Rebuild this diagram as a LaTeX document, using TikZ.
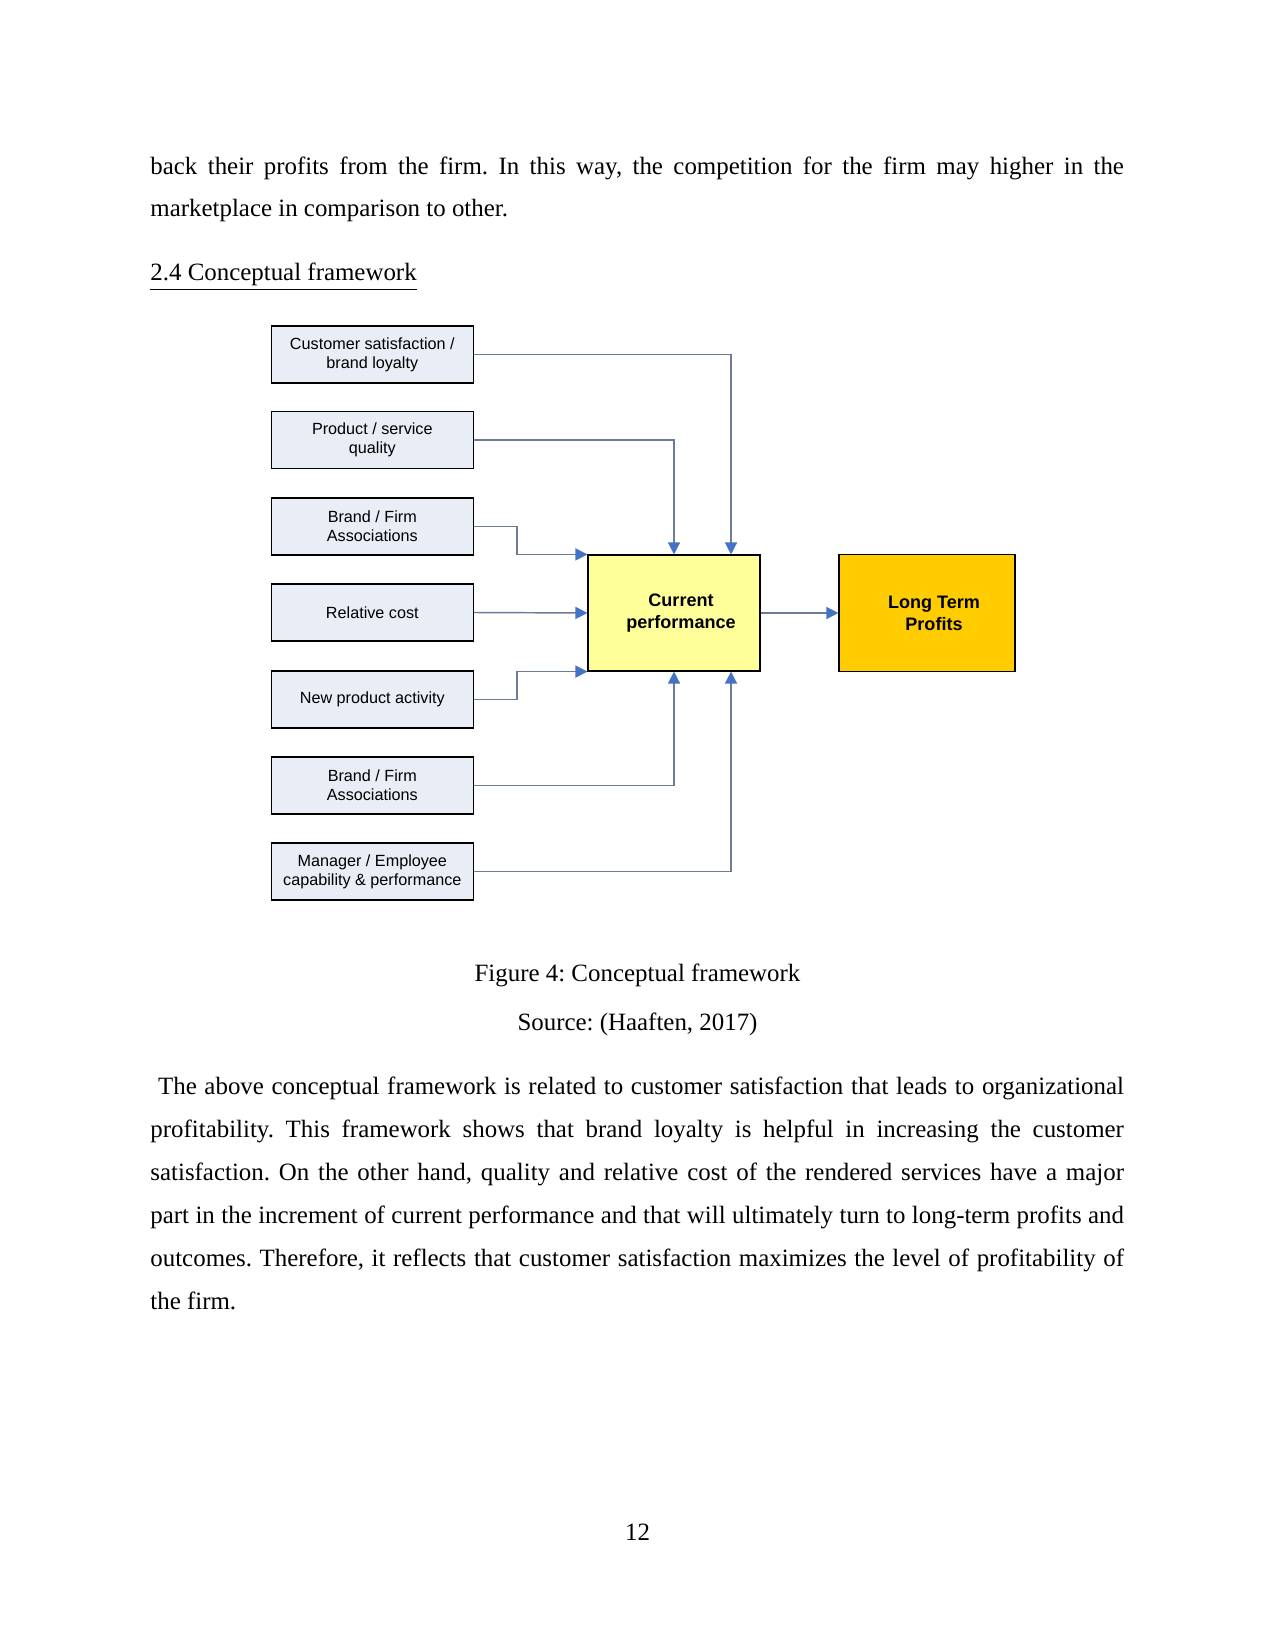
\documentclass[tikz,border=0pt]{standalone}
\usepackage{fontspec}
\setmainfont{Liberation Serif}
\newfontfamily\arialfont{Liberation Sans}
\usetikzlibrary{arrows.meta}
\newdimen\pxu
\pxu=0.4818pt
\definecolor{boxfill}{RGB}{233,237,246}
\definecolor{curfill}{RGB}{255,255,153}
\definecolor{longfill}{RGB}{255,204,0}
\definecolor{linecol}{RGB}{108,124,148}
\definecolor{tipcol}{RGB}{68,114,196}
\frenchspacing
\begin{document}
\begin{tikzpicture}[x=0.4818pt,y=-0.4818pt,
  inbox/.style={draw=black,line width=0.55pt,fill=boxfill,minimum width=202\pxu,minimum height=57\pxu,inner sep=0pt,align=center,font=\arialfont\fontsize{7.8pt}{9.2pt}\selectfont},
  bigbox/.style={draw=black,line width=0.55pt,minimum height=116\pxu,inner sep=0pt},
  bigtext/.style={align=center,font=\arialfont\bfseries\fontsize{8.7pt}{10.6pt}\selectfont},
  conn/.style={draw=linecol,line width=0.7pt,-{Triangle[length=5.8pt,width=5.8pt,fill=tipcol,color=tipcol]}},
  bodyline/.style={anchor=base west,inner sep=0pt,font=\fontsize{12pt}{14pt}\selectfont},
  centerline/.style={anchor=base,inner sep=0pt,font=\fontsize{12pt}{14pt}\selectfont}]
\useasboundingbox[fill=white] (0,0) rectangle (1275,1650);

% text above
\node[bodyline] (t1) at (150,175) {\makebox[6.49in][s]{back their profits from the firm. In this way, the competition for the firm may higher in the}};
\node[bodyline] (t2) at (150,217) {marketplace in comparison to other.};
\node[bodyline] (h1) at (150,281) {\underline{2.4 Conceptual framework}};

% left boxes
\node[inbox] (b1) at (372.3,354.5) {Customer satisfaction /\\brand loyalty};
\node[inbox] (b2) at (372.3,440) {Product / service\\quality};
\node[inbox] (b3) at (372.3,526.5) {Brand / Firm\\Associations};
\node[inbox] (b4) at (372.3,612.5) {Relative cost};
\node[inbox] (b5) at (372.3,699.5) {New product activity};
\node[inbox] (b6) at (372.3,785.5) {Brand / Firm\\Associations};
\node[inbox] (b7) at (372.3,871.5) {Manager / Employee\\capability \& performance};

% central and right boxes
\node[bigbox,fill=curfill,minimum width=172\pxu] (cur) at (674,613) {};
\node[bigtext] (curt) at (681,613) {Current\\performance};
\node[bigbox,fill=longfill,minimum width=176\pxu,minimum height=117\pxu] (long) at (927,613) {};
\node[bigtext] (longt) at (934,613) {Long Term\\Profits};

% connectors
\draw[conn] (b1.east) -| ([xshift=57\pxu]cur.north);
\draw[conn] (b2.east) -| (cur.north);
\draw[conn] (b3.east) -- ++(43,0) |- (cur.north west);
\draw[conn] (b4.east) -- (cur.west);
\draw[conn] (b5.east) -- ++(43,0) |- (cur.south west);
\draw[conn] (b6.east) -| (cur.south);
\draw[conn] (b7.east) -| ([xshift=57\pxu]cur.south);
\draw[conn] (cur.east) -- (long.west);

% caption
\node[centerline] (cap) at (637.5,981) {Figure 4: Conceptual framework};
\node[centerline] (src) at (637.5,1030.3) {Source: (Haaften, 2017)};

% paragraph
\node[bodyline] (p1) at (150,1094.5) {\makebox[6.49in][s]{\ The above conceptual framework is related to customer satisfaction that leads to organizational}};
\node[bodyline] (p2) at (150,1137.7) {\makebox[6.49in][s]{profitability. This framework shows that brand loyalty is helpful in increasing the customer}};
\node[bodyline] (p3) at (150,1180.5) {\makebox[6.49in][s]{satisfaction. On the other hand, quality and relative cost of the rendered services have a major}};
\node[bodyline] (p4) at (150,1223.7) {\makebox[6.49in][s]{part in the increment of current performance and that will ultimately turn to long-term profits and}};
\node[bodyline] (p5) at (150,1266.5) {\makebox[6.49in][s]{outcomes. Therefore, it reflects that customer satisfaction maximizes the level of profitability of}};
\node[bodyline] (p6) at (150,1309.5) {the firm.};

% page number
\node[centerline] (pg) at (637.5,1540.3) {12};
\end{tikzpicture}
\end{document}
